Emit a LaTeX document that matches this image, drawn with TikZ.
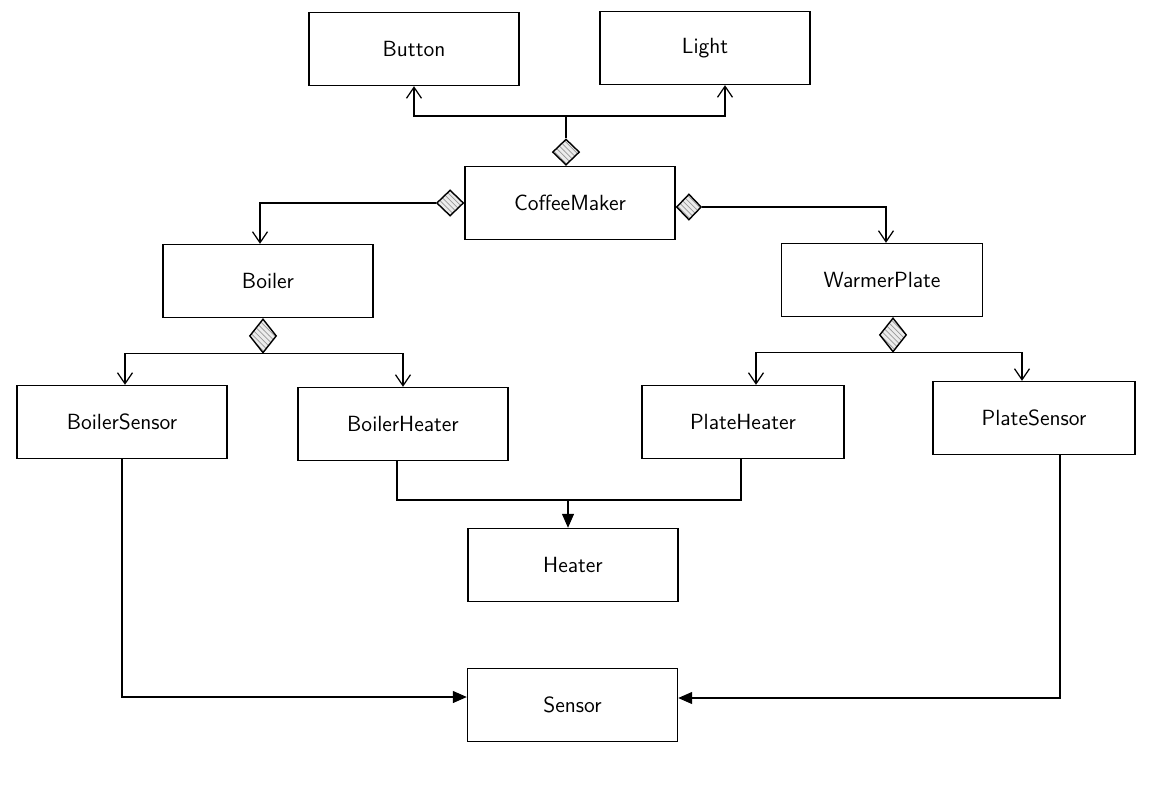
\documentclass[tikz,border=0pt]{standalone}
\usepackage{tikz}
\usetikzlibrary{arrows.meta, shapes.geometric, patterns}

\tikzset{
	cls/.style={draw, line width=0.8pt, minimum width=4.2cm, minimum height=1.46cm, font=\sffamily\fontsize{12.5}{14}\selectfont},
	aggr/.style={diamond, draw, line width=0.8pt, minimum width=0.54cm, minimum height=0.52cm, inner sep=0pt, preaction={fill=gray!15}, pattern=north west lines, pattern color=gray!80},
	open/.style={-{Straight Barb[length=2.2mm, width=3mm]}, line width=0.7pt},
	filled/.style={-{Triangle[length=2.8mm, width=2.4mm]}, line width=0.7pt}
}

\begin{document}
\begin{tikzpicture}
			\useasboundingbox (0, 0) rectangle (23.48, -15.88);
			
			% Top row
			\node[cls] (button) at (8.28, -0.98) {Button};
			\node[cls] (light) at (14.1, -0.96) {Light};
			
			% Coffee maker
			\node[cls] (maker) at (11.4, -4.06) {CoffeeMaker};
			\node[aggr, anchor=south] (dtop) at (maker.north -| 11.32, 0) {};
			\node[aggr, anchor=east] (dleft) at (maker.west) {};
			\node[aggr, anchor=west, minimum width=0.5cm] (dright) at ([yshift=-0.8mm]maker.east) {};
			
			% Middle row
			\node[cls] (boiler) at (5.36, -5.62) {Boiler};
			\node[cls, minimum width=4.02cm] (plate) at (17.64, -5.6) {WarmerPlate};
			\node[aggr, anchor=north, minimum height=0.68cm] (dboiler) at ([xshift=-1mm]boiler.south) {};
			\node[aggr, anchor=north, minimum height=0.68cm] (dplate) at ([xshift=2.2mm]plate.south) {};
			
			% Parts
			\node[cls] (bsensor) at (2.44, -8.44) {BoilerSensor};
			\node[cls] (bheater) at (8.06, -8.48) {BoilerHeater};
			\node[cls, minimum width=4.04cm] (pheater) at (14.86, -8.44) {PlateHeater};
			\node[cls, minimum width=4.04cm] (psensor) at (20.68, -8.36) {PlateSensor};
			
			% Bottom
			\node[cls] (heater) at (11.46, -11.3) {Heater};
			\node[cls] (sensor) at (11.45, -14.1) {Sensor};
			
			% Button and light
			\coordinate (jtop) at (11.32, -2.32);
			\draw[line width=0.7pt] (dtop.north) -- (jtop);
			\draw[open] (jtop) -| (button.south);
			\draw[open] (jtop) -| ([xshift=4mm]light.south);
			
			% Boiler and warmer plate
			\draw[open] (dleft.west) -| ([xshift=-1.6mm]boiler.north);
			\draw[open] (dright.east) -| ([xshift=0.8mm]plate.north);
			
			% Boiler parts
			\draw[open] (dboiler.south) -| ([xshift=0.6mm]bsensor.north);
			\draw[open] (dboiler.south) -| (bheater.north);
			
			% Plate parts
			\draw[open] (dplate.south) -| ([xshift=2.6mm]pheater.north);
			\draw[open] (dplate.south) -| ([xshift=-2.4mm]psensor.north);
			
			% Heater
			\coordinate (jheat) at ([xshift=-1mm]heater.north |- 0, -10);
			\draw[line width=0.7pt] ([xshift=-1.2mm]bheater.south) |- (jheat) -| ([xshift=-0.4mm]pheater.south);
			\draw[filled] (jheat) -- (jheat |- heater.north);
			
			% Sensor
			\draw[filled] (bsensor.south) |- ([yshift=1.6mm]sensor.west);
			\draw[filled] ([xshift=5.2mm]psensor.south) |- ([yshift=1.4mm]sensor.east);
			
\end{tikzpicture}
\end{document}
